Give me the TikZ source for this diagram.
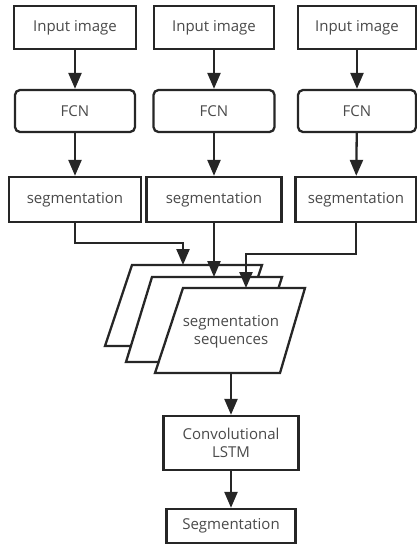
\documentclass[tikz,border=0pt]{standalone}
\usepackage{fontspec}
\setmainfont{Open Sans}
\usetikzlibrary{arrows.meta}
\definecolor{ink}{HTML}{262626}
\definecolor{txt}{HTML}{4A4A4A}
\begin{document}
\begin{tikzpicture}[x=1pt,y=-1pt,
  box/.style={draw=ink, line width=2.3pt, fill=white, text=txt,
    font=\fontsize{15}{18}\selectfont, inner sep=0pt, align=center},
  rbox/.style={box, rounded corners=5pt},
  arr/.style={draw=ink, line width=2.3pt, -{Triangle[width=13pt,length=16pt]}},
  para/.style={draw=ink, line width=2.3pt, fill=white, line join=miter},
  lbl/.style={text=txt, font=\fontsize{15}{18}\selectfont, align=center, inner sep=0pt}]
\useasboundingbox (0,0) rectangle (417,555);
% input boxes
\node[box, minimum width=122pt, minimum height=43pt] (in1) at (75,27.5) {Input image};
\node[box, minimum width=120pt, minimum height=43pt] (in2) at (214,27.5) {Input image};
\node[box, minimum width=118pt, minimum height=43pt] (in3) at (357,27.5) {Input image};
% FCN
\node[rbox, minimum width=120pt, minimum height=42pt] (f1) at (75,111) {FCN};
\node[rbox, minimum width=121pt, minimum height=42pt] (f2) at (214,111) {FCN};
\node[rbox, minimum width=118pt, minimum height=42pt] (f3) at (357,111) {FCN};
% segmentation
\node[box, minimum width=132pt, minimum height=45pt] (s1) at (75,199.5) {segmentation};
\node[box, minimum width=135pt, minimum height=45pt] (s2) at (214,199.5) {segmentation};
\node[box, minimum width=121pt, minimum height=45pt] (s3) at (356,199.5) {segmentation};
% arrows
\draw[arr] (in1) -- (f1);
\draw[arr] (in2) -- (f2);
\draw[arr] (in3) -- (f3);
\draw[arr] (f1) -- (s1);
\draw[arr] (f2) -- (s2);
\draw[arr] (f3) -- (s3);
% stacked parallelograms
\draw[para] (132,265) -- (262,265) -- (235,346) -- (105,346) -- cycle;
\draw[para] (152,277) -- (282,277) -- (255,362) -- (126,362) -- cycle;
\draw[para] (183,288) -- (305,288) -- (280,373) -- (155,373) -- cycle;
\node[lbl] (seq) at (231,332) {segmentation\\sequences};
\coordinate (t1) at (183,265);
\coordinate (t2) at (214,277);
\coordinate (t3) at (246,288);
\coordinate (b1) at (183,243);
\coordinate (b3) at (246,254);
\coordinate (fb) at (231,373);
\draw[arr] (s1.south) |- (b1) -- (t1);
\draw[arr] (s2.south) -- (t2);
\draw[arr] (s3.south) |- (b3) -- (t3);
% LSTM and output
\node[box, minimum width=135pt, minimum height=54pt] (lstm) at (231,443) {Convolutional\\LSTM};
\node[box, minimum width=129pt, minimum height=34pt] (out) at (231,526) {Segmentation};
\draw[arr] (fb) -- (lstm);
\draw[arr] (lstm) -- (out);
\end{tikzpicture}
\end{document}
